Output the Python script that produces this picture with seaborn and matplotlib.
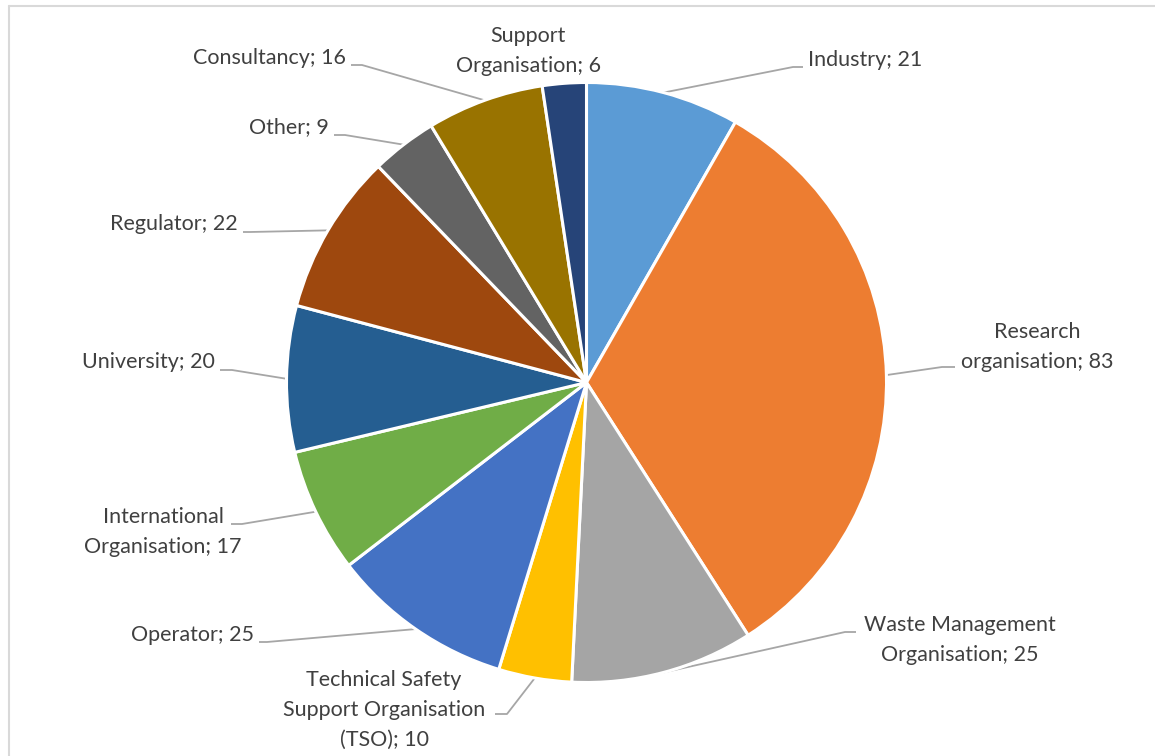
import numpy as np
import matplotlib
matplotlib.use("Agg")
import matplotlib.pyplot as plt
from matplotlib.lines import Line2D
import seaborn as sns

# ---- data ----
categories = ["Industry", "Research\norganisation", "Waste Management\nOrganisation",
              "Technical Safety\nSupport Organisation\n(TSO)", "Operator",
              "International\nOrganisation", "University", "Regulator", "Other",
              "Consultancy", "Support\nOrganisation"]
values = [21, 83, 25, 10, 25, 17, 20, 22, 9, 16, 6]
colors = ["#5B9BD5", "#ED7D31", "#A5A5A5", "#FFC000", "#4472C4", "#70AD47",
          "#255E91", "#9E480E", "#636363", "#997300", "#264478"]

# ---- layout (pixels in the 1155x756 image) ----
W, H = 1155, 756
CX, CY, R = 586.5, 382.5, 300.0
# text anchor x, y, ha ; elbow points (diag end, horizontal end) or None
layout = [
    (808, 60, "left", (793, 67), (803, 67)),
    (1037, 347, "center", (942, 367), (955, 367)),
    (960, 640, "center", (845, 632), (856, 632)),
    (384, 710, "center", (507, 714), (495, 714)),
    (254, 635, "right", (267, 642), (259, 642)),
    (163, 532, "center", (242, 524), (231, 524)),
    (215, 362, "right", (232, 370), (220, 370)),
    (238, 224, "right", (250, 232), (243, 232)),
    (329, 127, "right", (345, 135), (334, 135)),
    (346, 58, "right", (362, 65), (351, 65)),
    (528, 51, "center", None, None),
]

sns.set_theme(style="white")
plt.rcParams["font.family"] = ["Lato", "DejaVu Sans"]

fig = plt.figure(figsize=(W / 100, H / 100), dpi=100)
ax = fig.add_axes([0, 0, 1, 1])

wedges, _ = ax.pie(values, colors=colors, startangle=90, counterclock=False,
                   radius=1.0, center=(0, 0),
                   wedgeprops=dict(edgecolor="white", linewidth=2.2))

ax.set_xlim(-CX / R, (W - CX) / R)
ax.set_ylim(-(H - CY) / R, CY / R)
ax.set_aspect("auto")
ax.axis("off")


def P(x, y):
    return ((x - CX) / R, (CY - y) / R)


text_color = "#404040"
line_color = "#A6A6A6"
for w, cat, val, (tx, ty, ha, e1, e2) in zip(wedges, categories, values, layout):
    label = f"{cat}; {val}"
    x, y = P(tx, ty)
    ax.text(x, y, label, ha=ha, va="center", multialignment="center",
            fontsize=15.5, color=text_color, linespacing=1.62)
    if e1 is not None:
        ang = np.deg2rad((w.theta1 + w.theta2) / 2)
        sx, sy = np.cos(ang), np.sin(ang)
        p1 = P(*e1)
        p2 = P(*e2)
        ax.plot([sx, p1[0], p2[0]], [sy, p1[1], p2[1]], color=line_color,
                lw=1.3, solid_capstyle="butt", zorder=0.5)

# chart-area border (Excel style)
fig.add_artist(Line2D([8.5 / W, 8.5 / W], [0, 1 - 6 / H], color="#D9D9D9", lw=1.5))
fig.add_artist(Line2D([8.5 / W, 1], [1 - 6 / H, 1 - 6 / H], color="#D9D9D9", lw=1.5))

fig.savefig("out.png", dpi=100, facecolor="white")
